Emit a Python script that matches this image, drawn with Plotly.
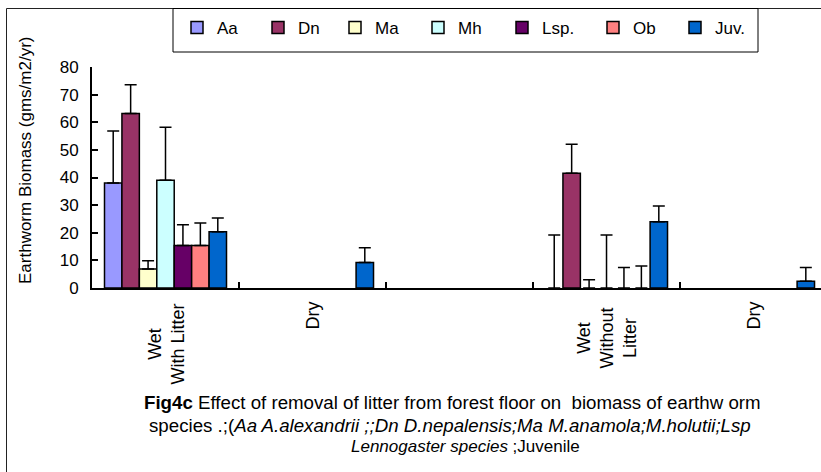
import plotly.graph_objects as go

# ---------------- data ----------------
# None = no bar drawn (species absent / no error bar shown)
categories = ["Wet<br>With Litter", "Dry", "", "Wet<br>Without<br>Litter", "Dry"]
species = ["Aa", "Dn", "Ma", "Mh", "Lsp.", "Ob", "Juv."]

aa = [38.0, None, None, 0, None]
aa_err = [18.8, None, None, 19.2, None]
dn = [63.2, None, None, 41.5, None]
dn_err = [10.4, None, None, 10.5, None]
ma = [6.9, None, None, 0, None]
ma_err = [3.0, None, None, 3.0, None]
mh = [39.0, None, None, 0, None]
mh_err = [19.2, None, None, 19.2, None]
lsp = [15.4, None, None, 0, None]
lsp_err = [7.5, None, None, 7.4, None]
ob = [15.4, None, None, 0, None]
ob_err = [8.1, None, None, 8.0, None]
juv = [20.4, 9.2, None, 24.0, 2.4]
juv_err = [4.9, 5.4, None, 5.7, 5.0]

values = [aa, dn, ma, mh, lsp, ob, juv]
errors = [aa_err, dn_err, ma_err, mh_err, lsp_err, ob_err, juv_err]

y_ticks = [0, 10, 20, 30, 40, 50, 60, 70, 80]

colors = ["#9999FF", "#993366", "#FFFFCC", "#CCFFFF", "#660066", "#FF8080", "#0066CC"]
legend_widths = [36, 32, 38, 39, 46, 37, 37]

y_title = "Earthworm Biomass (gms/m2/yr)"
caption_lines = [
    "<b>Fig4c</b> Effect of removal of litter from forest floor on  biomass of earthw orm",
    "species .;(<i>Aa A.alexandrii ;;Dn D.nepalensis;Ma M.anamola;M.holutii;Lsp</i>",
    "<i>Lennogaster species</i> ;Juvenile",
]

# ---------------- geometry ----------------
W, H = 821, 472
L, T, B = 92, 67, 184
PW = W - L
PH = H - T - B
FONT = "Liberation Sans, Arial, sans-serif"


def px(p):
    return (p - L) / PW


def py(q):
    return (H - B - q) / PH


xs = list(range(len(categories)))

fig = go.Figure()
for name, vals, err, col, lw in zip(species, values, errors, colors, legend_widths):
    fig.add_trace(go.Bar(
        name=name, x=xs, y=vals,
        marker=dict(color=col,
                    opacity=[1 if v else 0 for v in vals],
                    line=dict(color="black",
                              width=[1.5 if v else 0 for v in vals])),
        error_y=dict(type="data", array=err, symmetric=False,
                     arrayminus=[0] * len(err), color="black",
                     thickness=1.5, width=6, visible=True),
        legendwidth=lw,
    ))

annotations = []
# category labels (rotated, centred lines) - vertical centre in px
label_centres = [344, 316, None, 338, 316]
for i, (lab, cy) in enumerate(zip(categories, label_centres)):
    if not lab:
        continue
    annotations.append(dict(
        x=i, xref="x", y=py(cy), yref="paper", yanchor="middle", xanchor="center",
        text=lab, textangle=-90, align="center", showarrow=False,
        font=dict(family=FONT, size=18, color="black"),
    ))
# y axis title
annotations.append(dict(
    x=px(25), y=py(161), xref="paper", yref="paper", xanchor="center",
    yanchor="middle", text=y_title, textangle=-90, showarrow=False,
    font=dict(family=FONT, size=17, color="black"),
))
# caption
cap_pos = [(452, 402, 18.7), (450, 425, 18.7), (465, 446, 17)]
for txt, (cx, cy, fs) in zip(caption_lines, cap_pos):
    annotations.append(dict(
        x=px(cx), y=py(cy), xref="paper", yref="paper", xanchor="center",
        yanchor="middle", text=txt, showarrow=False,
        font=dict(family=FONT, size=fs, color="black"),
    ))

shapes = [
    # outer chart border (cropped on right and bottom)
    dict(type="rect", xref="paper", yref="paper", x0=px(6.5), y0=py(8.5),
         x1=px(840), y1=py(490), line=dict(color="#222222", width=1),
         fillcolor="rgba(0,0,0,0)", layer="above"),
    # legend box
    dict(type="rect", xref="paper", yref="paper", x0=px(173), y0=py(8.5),
         x1=px(758), y1=py(52), line=dict(color="black", width=1),
         fillcolor="rgba(0,0,0,0)", layer="above"),
]

fig.update_layout(
    width=W, height=H,
    margin=dict(l=L, r=0, t=T, b=B, autoexpand=False),
    paper_bgcolor="white", plot_bgcolor="white",
    barmode="group", bargap=0.17, bargroupgap=0,
    font=dict(family=FONT, size=17, color="black"),
    showlegend=True,
    legend=dict(orientation="h", x=px(177), xanchor="left", y=py(28),
                yanchor="middle", bgcolor="rgba(0,0,0,0)", borderwidth=0,
                font=dict(family=FONT, size=17, color="black"),
                traceorder="normal"),
    xaxis=dict(range=[-0.5, len(categories) - 0.541], showgrid=False, zeroline=False,
               showline=True, linecolor="black", linewidth=2,
               tickmode="array", tickvals=[i + 0.5 for i in xs[:-1]],
               ticks="inside", ticklen=6, tickwidth=1.5, tickcolor="black",
               showticklabels=False),
    yaxis=dict(range=[0, 80], showgrid=False, zeroline=False,
               showline=True, linecolor="black", linewidth=2,
               tickmode="array", tickvals=y_ticks,
               ticks="inside", ticklen=6, tickwidth=1.5, tickcolor="black",
               tickfont=dict(family=FONT, size=17, color="black"),
               ticklabelstandoff=8),
    annotations=annotations,
    shapes=shapes,
)

fig.write_html("out.html",
               config={"displayModeBar": False},
               post_script="document.body.style.margin='0px';document.body.style.overflow='hidden';")
